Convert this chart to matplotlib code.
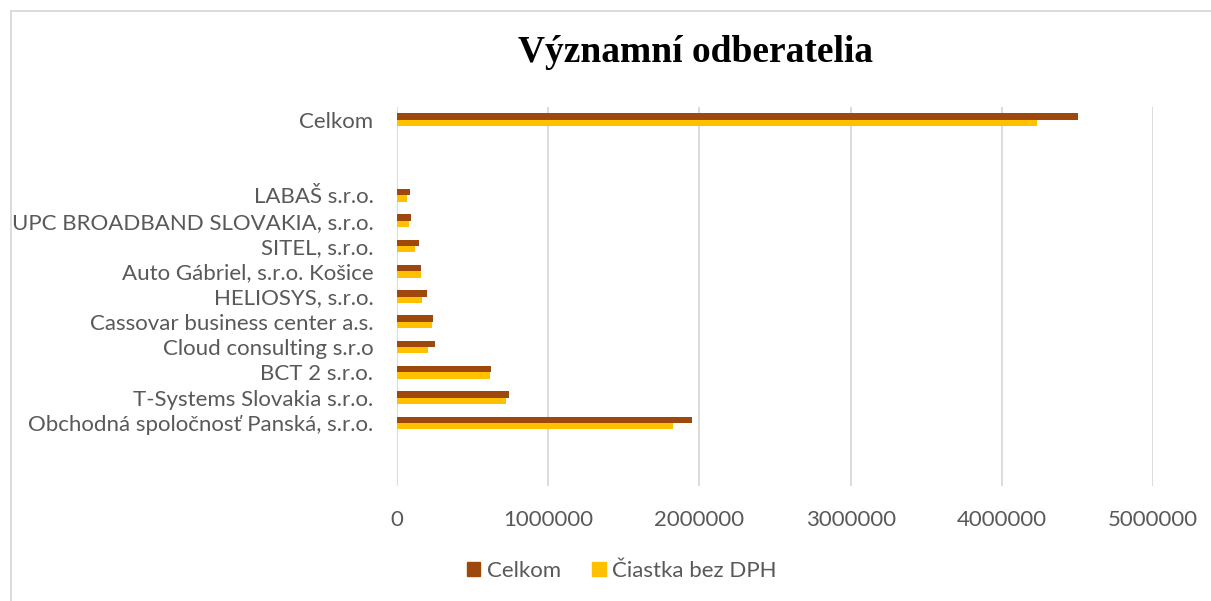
import numpy as np
import matplotlib
matplotlib.use("Agg")
import matplotlib.pyplot as plt
from matplotlib.patches import Rectangle, Patch

# kategórie zdola nahor, prázdne sloty ako v pôvodnom grafe
categories = ["", "",
              "Obchodná spoločnosť Panská, s.r.o.",
              "T-Systems Slovakia s.r.o.",
              "BCT 2 s.r.o.",
              "Cloud consulting s.r.o",
              "Cassovar business center a.s.",
              "HELIOSYS, s.r.o.",
              "Auto Gábriel, s.r.o. Košice",
              "SITEL, s.r.o.",
              "UPC BROADBAND SLOVAKIA, s.r.o.",
              "LABAŠ s.r.o.",
              "", "",
              "Celkom"]
celkom = [np.nan, np.nan, 1949000, 739000, 620000, 249000, 236000, 198000,
          161000, 143000, 95000, 84000, np.nan, np.nan, 4504000]
bez_dph = [np.nan, np.nan, 1823000, 721000, 618000, 207000, 233000, 165000,
           156000, 116000, 79000, 68000, np.nan, np.nan, 4231000]
x_ticks = [0, 1000000, 2000000, 3000000, 4000000, 5000000]

c_brown = "#9e480e"
c_yellow = "#ffc000"
c_text = "#595959"
c_grid = "#d9d9d9"

fig = plt.figure(figsize=(12.11, 6.01), dpi=100)
ax = fig.add_axes([397 / 1211, 1 - 486 / 601, 756 / 1211, 379 / 601])

y = np.arange(len(categories))
h = 0.25
ax.barh(y + h / 2, celkom, height=h, color=c_brown, label="Celkom", zorder=3)
ax.barh(y - h / 2, bez_dph, height=h, color=c_yellow, label="Čiastka bez DPH", zorder=3)

ax.set_ylim(-0.5, len(categories) - 0.5)
ax.set_xlim(0, 5000000)
ax.set_yticks(y)
ax.set_yticklabels(categories)
ax.set_xticks(x_ticks)
ax.set_xticklabels([str(v) for v in x_ticks])
ax.xaxis.grid(True, color=c_grid, linewidth=1.3, zorder=0)
for s in ax.spines.values():
    s.set_visible(False)
ax.tick_params(axis="both", length=0, colors=c_text, labelsize=16)
ax.tick_params(axis="y", pad=17)
ax.tick_params(axis="x", pad=17)
for lbl in ax.get_xticklabels() + ax.get_yticklabels():
    lbl.set_fontfamily("Lato")

fig.text(695 / 1211, 1 - 53 / 601, "Významní odberatelia", ha="center", va="center",
         fontsize=27, fontweight="bold", family="Liberation Serif", color="black")

handles = [Patch(color=c_brown, label="Celkom"), Patch(color=c_yellow, label="Čiastka bez DPH")]
fig.legend(handles=handles, loc="center", bbox_to_anchor=(622 / 1211, 1 - 571 / 601),
           ncol=2, frameon=False, handlelength=0.6, handleheight=0.6, handletextpad=0.3,
           columnspacing=1.4, prop={"family": "Lato", "size": 16}, labelcolor=c_text)

# okraj grafu (len horná a ľavá hrana sú v zábere)
fig.patches.append(Rectangle((11 / 1211, -0.1), 1.2, 1 - 11 / 601 + 0.1, transform=fig.transFigure,
                             fill=False, edgecolor=c_grid, linewidth=1.3))

fig.savefig("out.png", dpi=100)
